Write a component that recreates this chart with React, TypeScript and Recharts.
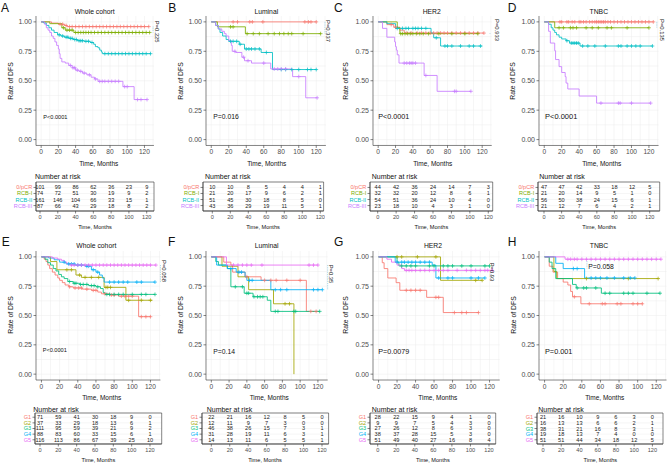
import React from 'react';
import {
  LineChart, Line, XAxis, YAxis, CartesianGrid, ReferenceLine,
  ScatterChart, Scatter, ReferenceArea,
} from 'recharts';

type Step = [number, number];

const FONT = '"Liberation Sans", Arial, Helvetica, sans-serif';
const RCB = ['#F8766D', '#7CAE00', '#00BFC4', '#C77CFF'];
const GRP = ['#F8766D', '#A3A500', '#00BF7D', '#00B0F6', '#E76BF3'];
const rcbLabels = ['0/pCR', 'RCB-I', 'RCB-II', 'RCB-III'];
const grpLabels = ['G1', 'G2', 'G3', 'G4', 'G5'];
const timeTicks = [0, 20, 40, 60, 80, 100, 120];
const survTicks = [0, 0.25, 0.5, 0.75, 1];
const gridX = [0, 10, 20, 30, 40, 50, 60, 70, 80, 90, 100, 110, 120, 130];
const gridY = [0, 0.125, 0.25, 0.375, 0.5, 0.625, 0.75, 0.875, 1];

// ---- A: whole cohort by RCB ----
const A_pcr: Step[] = [[0, 1], [12, 0.99], [20, 0.98], [27, 0.97], [30, 0.96], [125, 0.96]];
const A_pcr_c = [22, 25, 29, 33, 36, 40, 44, 48, 52, 56, 60, 64, 68, 72, 76, 80, 84, 88, 92, 96, 100, 104, 108, 112, 116, 120, 125];
const A_rcb1: Step[] = [[0, 1], [10, 0.985], [24, 0.95], [28, 0.93], [38, 0.91], [126, 0.91]];
const A_rcb1_c = [26, 30, 33, 36, 40, 43, 46, 49, 52, 55, 58, 62, 66, 70, 74, 78, 82, 86, 90, 94, 98, 102, 106, 110, 114, 118, 122, 126];
const A_rcb2: Step[] = [[0, 1], [3, 0.99], [6, 0.97], [9, 0.95], [12, 0.93], [15, 0.91], [19, 0.89], [23, 0.88], [27, 0.87], [32, 0.86], [37, 0.85], [42, 0.84], [50, 0.835], [57, 0.825], [61, 0.81], [63, 0.79], [66, 0.78], [68, 0.76], [70, 0.745], [71, 0.73], [127, 0.73]];
const A_rcb2_c = [21, 25, 29, 31, 34, 36, 39, 41, 44, 46, 48, 52, 55, 59, 74, 78, 82, 86, 90, 94, 98, 102, 106, 110, 114, 118, 122, 127];
const A_rcb3: Step[] = [[0, 1], [4, 0.98], [6, 0.95], [8, 0.93], [10, 0.91], [12, 0.88], [14, 0.86], [16, 0.83], [18, 0.8], [20, 0.77], [21, 0.73], [22, 0.69], [24, 0.66], [28, 0.65], [32, 0.63], [36, 0.61], [40, 0.59], [44, 0.58], [48, 0.565], [53, 0.55], [58, 0.53], [62, 0.515], [66, 0.495], [95, 0.45], [108, 0.34], [123, 0.34]];
const A_rcb3_c = [34, 37, 39, 42, 46, 50, 56, 63, 68, 71, 74, 78, 82, 86, 90, 97, 100, 112, 116, 123];
const A_risk = [[101, 99, 86, 62, 36, 23, 9], [74, 72, 51, 30, 19, 9, 2], [161, 146, 104, 66, 33, 15, 1], [87, 66, 43, 29, 18, 8, 2]];

// ---- B: luminal by RCB ----
const B_pcr: Step[] = [[0, 1], [120, 1]];
const B_pcr_c = [25, 30, 44, 47, 59, 107, 111, 114, 120];
const B_rcb1: Step[] = [[0, 1], [7, 0.958], [39, 0.9], [125, 0.9]];
const B_rcb1_c = [22, 25, 41, 48, 55, 65, 72, 78, 83, 88, 92, 105, 125];
const B_rcb2: Step[] = [[0, 1], [5, 0.97], [8, 0.94], [10, 0.91], [13, 0.88], [17, 0.85], [20, 0.835], [32, 0.81], [38, 0.77], [57, 0.74], [70, 0.595], [120, 0.595]];
const B_rcb2_c = [22, 25, 29, 33, 40, 43, 46, 50, 55, 63, 80, 85, 92, 100, 110, 114, 120];
const B_rcb3: Step[] = [[0, 1], [5, 0.97], [8, 0.94], [12, 0.92], [15, 0.9], [17, 0.88], [20, 0.84], [23, 0.8], [24, 0.75], [28, 0.74], [35, 0.7], [38, 0.67], [46, 0.65], [68, 0.6], [93, 0.535], [108, 0.355], [121, 0.355]];
const B_rcb3_c = [27, 37, 42, 60, 72, 76, 80, 85, 100, 121];
const B_risk = [[10, 10, 8, 5, 4, 4, 1], [21, 20, 17, 9, 6, 2, 1], [51, 45, 30, 18, 8, 5, 0], [43, 36, 29, 19, 11, 5, 1]];

// ---- C: HER2 by RCB ----
const C_pcr: Step[] = [[0, 1], [10, 0.977], [18, 0.955], [25, 0.93], [30, 0.905], [122, 0.905]];
const C_pcr_c = [15, 20, 33, 38, 45, 50, 55, 60, 64, 68, 72, 76, 80, 85, 90, 95, 100, 105, 110, 115, 122];
const C_rcb1: Step[] = [[0, 1], [22, 0.95], [25, 0.9], [115, 0.9]];
const C_rcb1_c = [26, 28, 31, 34, 37, 40, 44, 48, 52, 58, 70, 85, 100, 115];
const C_rcb2: Step[] = [[0, 1], [10, 0.985], [20, 0.945], [61, 0.905], [64, 0.865], [72, 0.795], [120, 0.795]];
const C_rcb2_c = [22, 28, 32, 35, 40, 43, 46, 50, 55, 67, 77, 80, 85, 95, 105, 110, 118];
const C_rcb3: Step[] = [[0, 1], [5, 0.945], [10, 0.87], [19, 0.83], [20, 0.79], [21, 0.76], [22, 0.72], [24, 0.65], [53, 0.545], [68, 0.41], [107, 0.41]];
const C_rcb3_c = [30, 33, 36, 38, 40, 43, 55, 88, 90, 107];
const C_risk = [[44, 42, 36, 24, 14, 7, 3], [32, 32, 20, 12, 8, 6, 1], [54, 51, 36, 24, 10, 4, 0], [23, 18, 10, 4, 3, 1, 0]];

// ---- D: TNBC by RCB ----
const D_pcr: Step[] = [[0, 1], [125, 1]];
const D_pcr_c = [18, 20, 26, 28, 32, 35, 40, 42, 45, 48, 52, 55, 58, 60, 62, 64, 66, 68, 70, 73, 76, 80, 84, 88, 92, 96, 100, 104, 108, 112, 116, 120, 125];
const D_rcb1: Step[] = [[0, 1], [12, 0.95], [120, 0.95]];
const D_rcb1_c = [17, 22, 30, 33, 37, 48, 55, 62, 72, 77, 95, 120];
const D_rcb2: Step[] = [[0, 1], [5, 0.98], [8, 0.95], [10, 0.93], [12, 0.91], [14, 0.89], [17, 0.87], [20, 0.855], [25, 0.84], [29, 0.82], [41, 0.795], [124, 0.795]];
const D_rcb2_c = [26, 31, 33, 35, 37, 39, 44, 50, 58, 70, 85, 88, 95, 100, 105, 110, 124];
const D_rcb3: Step[] = [[0, 1], [5, 0.92], [7, 0.82], [12, 0.755], [13, 0.68], [17, 0.62], [20, 0.57], [24, 0.535], [25, 0.48], [27, 0.43], [40, 0.37], [60, 0.31], [122, 0.31]];
const D_rcb3_c = [65, 85, 87, 100, 122];
const D_risk = [[47, 47, 42, 33, 18, 12, 5], [21, 20, 14, 9, 5, 1, 0], [56, 50, 38, 24, 15, 6, 1], [21, 12, 7, 6, 4, 2, 1]];

// ---- E: whole cohort by group ----
const E_g1: Step[] = [[0, 1], [3, 0.98], [5, 0.96], [7, 0.93], [9, 0.9], [12, 0.87], [15, 0.845], [18, 0.82], [20, 0.8], [23, 0.78], [26, 0.76], [30, 0.745], [35, 0.735], [45, 0.725], [55, 0.715], [62, 0.7], [66, 0.685], [75, 0.675], [85, 0.665], [107, 0.49], [120, 0.49]];
const E_g1_c = [31, 37, 41, 44, 50, 57, 60, 70, 77, 80, 88, 92, 96, 100, 110, 115, 120];
const E_g2: Step[] = [[0, 1], [10, 0.96], [17, 0.89], [38, 0.845], [44, 0.825], [69, 0.74], [93, 0.63], [122, 0.63]];
const E_g2_c = [28, 33, 42, 48, 55, 63, 71, 73, 76, 96, 110, 120];
const E_g3: Step[] = [[0, 1], [4, 0.98], [7, 0.95], [10, 0.93], [13, 0.9], [16, 0.88], [19, 0.85], [22, 0.83], [25, 0.815], [29, 0.79], [35, 0.775], [42, 0.765], [52, 0.755], [60, 0.745], [65, 0.73], [68, 0.695], [70, 0.68], [125, 0.68]];
const E_g3_c = [31, 36, 38, 43, 46, 50, 55, 58, 62, 72, 75, 80, 85, 90, 100, 110, 115, 125];
const E_g4: Step[] = [[0, 1], [8, 0.99], [14, 0.975], [20, 0.955], [27, 0.94], [37, 0.93], [48, 0.92], [55, 0.89], [60, 0.87], [64, 0.845], [67, 0.82], [69, 0.785], [125, 0.785]];
const E_g4_c = [25, 30, 33, 36, 40, 44, 50, 52, 57, 62, 75, 80, 85, 90, 95, 105, 110, 125];
const E_g5: Step[] = [[0, 1], [12, 0.99], [18, 0.98], [22, 0.97], [25, 0.955], [28, 0.94], [31, 0.93], [126, 0.93]];
const E_g5_c = [33, 36, 40, 44, 48, 52, 56, 60, 64, 68, 72, 76, 80, 84, 88, 92, 96, 100, 104, 108, 112, 116, 120, 126];
const E_risk = [[71, 59, 41, 30, 18, 9, 0], [37, 33, 29, 18, 13, 6, 1], [111, 95, 59, 39, 21, 9, 2], [88, 83, 60, 33, 15, 6, 1], [116, 113, 86, 67, 39, 25, 10]];

// ---- F: luminal by group ----
const F_g1: Step[] = [[0, 1], [14, 0.955], [22, 0.93], [24, 0.87], [38, 0.83], [56, 0.8], [107, 0.535], [120, 0.535]];
const F_g1_c = [40, 60, 67, 73, 85, 100, 112, 118];
const F_g2: Step[] = [[0, 1], [12, 0.92], [30, 0.83], [42, 0.72], [70, 0.6], [93, 0]];
const F_g2_c = [83, 88];
const F_g3: Step[] = [[0, 1], [5, 0.96], [8, 0.93], [18, 0.9], [22, 0.745], [37, 0.69], [47, 0.66], [63, 0.63], [67, 0.535], [122, 0.535]];
const F_g3_c = [27, 35, 40, 42, 48, 52, 55, 58, 72, 75, 93, 95, 122];
const F_g4: Step[] = [[0, 1], [6, 0.93], [18, 0.9], [28, 0.87], [38, 0.83], [40, 0.8], [67, 0.72], [125, 0.72]];
const F_g4_c = [22, 31, 34, 43, 46, 72, 78, 85, 115, 120, 125];
const F_g5: Step[] = [[0, 1], [17, 0.93], [120, 0.93]];
const F_g5_c = [25, 30, 35, 40, 45, 57, 110, 115, 120];
const F_risk = [[22, 21, 16, 12, 8, 5, 0], [12, 11, 9, 7, 3, 0, 0], [46, 38, 26, 15, 7, 3, 1], [31, 28, 19, 11, 6, 3, 1], [14, 13, 11, 6, 5, 5, 1]];

// ---- G: HER2 by group ----
const G_g1: Step[] = [[0, 1], [4, 0.95], [6, 0.9], [10, 0.82], [19, 0.78], [23, 0.715], [52, 0.655], [70, 0.525], [108, 0.525]];
const G_g1_c = [30, 35, 40, 45, 62, 65, 82, 90, 95, 108];
const G_g2: Step[] = [[0, 1], [67, 0.8], [112, 0.8]];
const G_g2_c = [20, 25, 42, 62, 105, 112];
const G_g3: Step[] = [[0, 1], [20, 0.955], [22, 0.923], [120, 0.923]];
const G_g3_c = [25, 30, 35, 40, 55, 60, 70, 75, 80, 90, 100, 115, 120];
const G_g4: Step[] = [[0, 1], [18, 0.955], [58, 0.93], [62, 0.82], [115, 0.82]];
const G_g4_c = [20, 25, 28, 32, 36, 40, 45, 50, 55, 65, 75, 80, 100, 108, 115];
const G_g5: Step[] = [[0, 1], [9, 0.98], [14, 0.955], [20, 0.93], [25, 0.9], [28, 0.885], [123, 0.885]];
const G_g5_c = [30, 33, 36, 40, 45, 50, 55, 60, 65, 70, 75, 85, 95, 100, 105, 110, 115, 118, 123];
const G_risk = [[28, 22, 15, 9, 4, 1, 0], [9, 9, 7, 5, 4, 3, 0], [27, 26, 12, 8, 6, 3, 0], [38, 37, 28, 15, 5, 3, 0], [51, 49, 40, 27, 16, 8, 4]];

// ---- H: TNBC by group ----
const H_g1: Step[] = [[0, 1], [5, 0.92], [9, 0.87], [14, 0.815], [20, 0.785], [25, 0.76], [28, 0.705], [30, 0.66], [39, 0.6], [105, 0.6]];
const H_g1_c = [32, 48, 62, 65, 78, 82, 95, 100, 105];
const H_g2: Step[] = [[0, 1], [10, 0.875], [13, 0.815], [122, 0.815]];
const H_g2_c = [45, 90, 122];
const H_g3: Step[] = [[0, 1], [5, 0.955], [8, 0.9], [12, 0.815], [30, 0.765], [34, 0.735], [61, 0.69], [124, 0.69]];
const H_g3_c = [35, 42, 45, 55, 65, 70, 85, 90, 95, 110, 124];
const H_g4: Step[] = [[0, 1], [12, 0.945], [20, 0.9], [43, 0.82], [97, 0.82]];
const H_g4_c = [31, 35, 50, 55, 60, 67, 75, 85, 92, 97];
const H_g5: Step[] = [[0, 1], [22, 0.98], [125, 0.98]];
const H_g5_c = [25, 28, 32, 35, 40, 45, 50, 55, 60, 65, 70, 75, 80, 85, 90, 95, 100, 105, 110, 115, 120, 125];
const H_risk = [[21, 16, 10, 9, 6, 3, 0], [16, 13, 13, 6, 6, 2, 1], [38, 31, 21, 16, 8, 3, 1], [19, 18, 13, 7, 4, 0, 0], [51, 51, 44, 34, 18, 12, 5]];

// build KM points: steps plus censor marks (value = step value in force at that time)
function km(steps: Step[], cens: number[]) {
  const pts = steps.map(([t, s]) => ({ t, s, c: false }));
  cens.forEach((t) => {
    let s = steps[0][1];
    for (const [st, sv] of steps) if (st <= t) s = sv;
    pts.push({ t, s, c: true });
  });
  return pts.sort((a, b) => a.t - b.t || (a.c ? 1 : -1));
}

const TOP = { letter: 11.5, title: 11, ylab: 81, xlab: 163, riskTitle: 176.7, tTop: 181.7, tBottom: 210.7, tXlab: 226.7 };
const BOT = { letter: 246.3, title: 245, ylab: 315, xlab: 397.7, riskTitle: 409.3, tTop: 413.3, tBottom: 444.3, tXlab: 460 };

const panels = [
  {
    id: 'A', row: TOP, title: 'Whole cohort', colors: RCB, labels: rcbLabels, risk: A_risk,
    curves: [km(A_pcr, A_pcr_c), km(A_rcb1, A_rcb1_c), km(A_rcb2, A_rcb2_c), km(A_rcb3, A_rcb3_c)],
    plot: { x0: 41, x120: 144.3, y1: 22.3, y0: 140 },
    table: { left: 36, right: 154, x0: 40, x120: 146.7 },
    letterX: 1, titleX: 94.7, ylabX: 10, xlabX: 98.7, riskX: 35,
    pMain: { text: 'P<0.0001', x: 43.3, y: 116.7, size: 5.6 },
    pSide: { text: 'P=0.225', x: 157, y: 31.7 },
    bracket: [130, 0.96, 0.91],
  },
  {
    id: 'B', row: TOP, title: 'Luminal', colors: RCB, labels: rcbLabels, risk: B_risk,
    curves: [km(B_pcr, B_pcr_c), km(B_rcb1, B_rcb1_c), km(B_rcb2, B_rcb2_c), km(B_rcb3, B_rcb3_c)],
    plot: { x0: 211.7, x120: 316.7, y1: 22.3, y0: 140 },
    table: { left: 202.7, right: 323.3, x0: 212, x120: 320 },
    letterX: 168.3, titleX: 266.3, ylabX: 180, xlabX: 266.7, riskX: 205,
    pMain: { text: 'P=0.016', x: 213.3, y: 116.7, size: 6.8 },
    pSide: { text: 'P=0.337', x: 328.3, y: 31 },
    bracket: [130, 1, 0.9],
  },
  {
    id: 'C', row: TOP, title: 'HER2', colors: RCB, labels: rcbLabels, risk: C_risk,
    curves: [km(C_pcr, C_pcr_c), km(C_rcb1, C_rcb1_c), km(C_rcb2, C_rcb2_c), km(C_rcb3, C_rcb3_c)],
    plot: { x0: 377.7, x120: 481.7, y1: 22.3, y0: 140 },
    table: { left: 370, right: 492.7, x0: 377.7, x120: 488.3 },
    letterX: 334, titleX: 431.7, ylabX: 345, xlabX: 432.7, riskX: 371.7,
    pMain: { text: 'P<0.0001', x: 378.3, y: 116.7, size: 7.2 },
    pSide: { text: 'P=0.933', x: 497, y: 30 },
    bracket: [129, 0.905, 0.9],
  },
  {
    id: 'D', row: TOP, title: 'TNBC', colors: RCB, labels: rcbLabels, risk: D_risk,
    curves: [km(D_pcr, D_pcr_c), km(D_rcb1, D_rcb1_c), km(D_rcb2, D_rcb2_c), km(D_rcb3, D_rcb3_c)],
    plot: { x0: 544.3, x120: 649, y1: 22.3, y0: 140 },
    table: { left: 538.3, right: 660, x0: 544.3, x120: 650 },
    letterX: 507.7, titleX: 598.8, ylabX: 512.7, xlabX: 601.7, riskX: 539.3,
    pMain: { text: 'P<0.0001', x: 545, y: 116.7, size: 7.5 },
    pSide: { text: 'P=0.135', x: 662, y: 30 },
    bracket: [129, 1, 0.95],
  },
  {
    id: 'E', row: BOT, title: 'Whole cohort', colors: GRP, labels: grpLabels, risk: E_risk,
    curves: [km(E_g1, E_g1_c), km(E_g2, E_g2_c), km(E_g3, E_g3_c), km(E_g4, E_g4_c), km(E_g5, E_g5_c)],
    plot: { x0: 41, x120: 150, y1: 256.7, y0: 374 },
    table: { left: 35, right: 161.7, x0: 40, x120: 150 },
    letterX: 1.7, titleX: 96.3, ylabX: 10, xlabX: 101.7, riskX: 33.3,
    pMain: { text: 'P<0.0001', x: 42.7, y: 350, size: 5.6 },
    pSide: { text: 'P=0.058', x: 164, y: 271 },
    bracket: [131, 0.93, 0.785],
  },
  {
    id: 'F', row: BOT, title: 'Luminal', colors: GRP, labels: grpLabels, risk: F_risk,
    curves: [km(F_g1, F_g1_c), km(F_g2, F_g2_c), km(F_g3, F_g3_c), km(F_g4, F_g4_c), km(F_g5, F_g5_c)],
    plot: { x0: 211.7, x120: 318.3, y1: 256.7, y0: 374 },
    table: { left: 201.7, right: 328.3, x0: 211, x120: 321.7 },
    letterX: 168, titleX: 266.7, ylabX: 180, xlabX: 269.2, riskX: 206.7,
    pMain: { text: 'P=0.14', x: 213.3, y: 351.7, size: 6.8 },
    pSide: { text: 'P=0.35', x: 330.7, y: 274 },
    bracket: [131, 0.93, 0.72],
  },
  {
    id: 'G', row: BOT, title: 'HER2', colors: GRP, labels: grpLabels, risk: G_risk,
    curves: [km(G_g1, G_g1_c), km(G_g2, G_g2_c), km(G_g3, G_g3_c), km(G_g4, G_g4_c), km(G_g5, G_g5_c)],
    plot: { x0: 378.3, x120: 489.3, y1: 256.7, y0: 374 },
    table: { left: 370, right: 495.7, x0: 377.7, x120: 489 },
    letterX: 334, titleX: 433, ylabX: 345, xlabX: 437.8, riskX: 371.7,
    pMain: { text: 'P=0.0079', x: 378.3, y: 351, size: 7.2 },
    pSide: { text: 'P=0.93', x: 492, y: 272 },
    bracket: [122, 0.885, 0.82],
  },
  {
    id: 'H', row: BOT, title: 'TNBC', colors: GRP, labels: grpLabels, risk: H_risk,
    curves: [km(H_g1, H_g1_c), km(H_g2, H_g2_c), km(H_g3, H_g3_c), km(H_g4, H_g4_c), km(H_g5, H_g5_c)],
    plot: { x0: 544.3, x120: 656, y1: 256.7, y0: 374 },
    table: { left: 537.3, right: 663.3, x0: 543.3, x120: 652.7 },
    letterX: 507.7, titleX: 599, ylabX: 513, xlabX: 604.7, riskX: 538.3,
    pMain: { text: 'P=0.001', x: 545, y: 351, size: 7.3 },
    pInner: { text: 'P=0.058', x: 588.3, y: 266.7, size: 6.8 },
    bracket: [45.5, 0.98, 0.9],
  },
];

const crossDot = (color: string) => (p: any) => {
  const { cx, cy, payload, index } = p;
  if (!payload || !payload.c || cx == null || cy == null) return <g key={`n${index}`} />;
  return (
    <path key={`c${index}`} d={`M${cx - 1.9},${cy}h3.8M${cx},${cy - 1.9}v3.8`}
      stroke={color} strokeWidth={0.7} fill="none" />
  );
};

const axisStroke = { stroke: '#333', strokeWidth: 0.6 };

function KMPlot({ p }: { p: any }) {
  const g = p.plot;
  const k = (g.x120 - g.x0) / 120;
  const left = g.x0 - 6 * k;
  const plotW = 137 * k;
  const ky = g.y0 - g.y1;
  const top = g.y1 - 0.05 * ky;
  const plotH = 1.1 * ky;
  const yW = 30, mt = 3, mr = 3, xH = 14;
  const [bx, by1, by2] = p.bracket;
  return (
    <div style={{ position: 'absolute', left: left - yW, top: top - mt }}>
      <LineChart width={yW + plotW + mr} height={mt + plotH + xH}
        margin={{ top: mt, right: mr, bottom: 0, left: 0 }}>
        <CartesianGrid stroke="#ececec" strokeWidth={0.5}
          verticalValues={gridX} horizontalValues={gridY} />
        <XAxis type="number" dataKey="t" domain={[-6, 131]} ticks={timeTicks} allowDataOverflow
          interval={0} height={xH} tickSize={2.5} tickMargin={1.5}
          axisLine={axisStroke} tickLine={axisStroke}
          tick={{ fontSize: 6.6, fill: '#4d4d4d', fontFamily: FONT }} />
        <YAxis type="number" domain={[-0.05, 1.05]} ticks={survTicks} allowDataOverflow
          interval={0} width={yW} tickSize={2.5} tickMargin={1.5}
          tickFormatter={(v: number) => v.toFixed(2)}
          axisLine={axisStroke} tickLine={axisStroke}
          tick={{ fontSize: 7, fill: '#4d4d4d', fontFamily: FONT }} />
        <ReferenceLine segment={[{ x: bx, y: by1 }, { x: bx, y: by2 }]}
          stroke="#6fb7d6" strokeWidth={0.7} strokeDasharray="0.8 1" ifOverflow="visible" />
        {p.curves.map((c: any, i: number) => (
          <Line key={i} data={c} dataKey="s" type="stepAfter" stroke={p.colors[i]}
            strokeWidth={0.85} dot={crossDot(p.colors[i])} activeDot={false}
            isAnimationActive={false} />
        ))}
      </LineChart>
    </div>
  );
}

function RiskTable({ p }: { p: any }) {
  const g = p.table;
  const n = p.risk.length;
  const k = (g.x120 - g.x0) / 120;
  const lo = (g.left - g.x0) / k;
  const hi = (g.right - g.x0) / k;
  const yLo = n === 4 ? 0.1 : 0.25;
  const yHi = n + 1 - yLo;
  const top = p.row.tTop, h = p.row.tBottom - p.row.tTop;
  const yW = 36, mt = 2, mr = 2, xH = 12;
  const data = p.risk.flatMap((r: number[], i: number) =>
    r.map((v, j) => ({ t: timeTicks[j], row: i + 1, n: v })));
  const rowTick = (tp: any) => (
    <text x={yW - 3.8} y={tp.y} textAnchor="end" dominantBaseline="central" fontSize={5.6}
      fontFamily={FONT} fill={p.colors[tp.payload.value - 1]}>{p.labels[tp.payload.value - 1]}</text>
  );
  const numShape = (sp: any) => (
    <text x={sp.cx} y={sp.cy} textAnchor="middle" dominantBaseline="central" fontSize={5.6}
      fontFamily={FONT} fill="#222">{sp.payload.n}</text>
  );
  return (
    <div style={{ position: 'absolute', left: g.left - yW, top: top - mt }}>
      <ScatterChart width={yW + (g.right - g.left) + mr} height={mt + h + xH}
        margin={{ top: mt, right: mr, bottom: 0, left: 0 }}>
        <CartesianGrid vertical={false} stroke="#ececec" strokeWidth={0.5} />
        <XAxis type="number" dataKey="t" domain={[lo, hi]} ticks={timeTicks} allowDataOverflow
          interval={0} height={xH} tickSize={2.5} tickMargin={1.5}
          axisLine={axisStroke} tickLine={axisStroke}
          tick={{ fontSize: 5.6, fill: '#4d4d4d', fontFamily: FONT }} />
        <YAxis type="number" dataKey="row" domain={[yLo, yHi]} reversed ticks={p.risk.map((_: any, i: number) => i + 1)}
          allowDataOverflow interval={0} width={yW} tickSize={2.5} tickMargin={1}
          axisLine={axisStroke} tickLine={axisStroke} tick={rowTick} />
        <ReferenceArea x1={lo} x2={hi} y1={yLo} y2={yHi} fill="none" fillOpacity={0}
          stroke="#333" strokeWidth={0.6} ifOverflow="visible" />
        <Scatter data={data} shape={numShape} isAnimationActive={false} />
      </ScatterChart>
    </div>
  );
}

export default function App() {
  const txt = { fontFamily: FONT, fill: '#111' } as const;
  return (
    <div style={{ position: 'absolute', left: 0, top: 0, width: 669, height: 464, background: '#fff', overflow: 'hidden' }}>
      {panels.map((p) => (
        <React.Fragment key={p.id}>
          <KMPlot p={p} />
          <RiskTable p={p} />
        </React.Fragment>
      ))}
      <svg width={669} height={464} style={{ position: 'absolute', left: 0, top: 0, pointerEvents: 'none' }}>
        {panels.map((p) => {
          const tc = (p.table.left + p.table.right) / 2;
          return (
            <g key={p.id}>
              <text x={p.letterX} y={p.row.letter} fontSize={12} {...txt}>{p.id}</text>
              <text x={p.titleX} y={p.row.title} fontSize={6.8} textAnchor="middle" dominantBaseline="central" {...txt}>{p.title}</text>
              <text x={p.ylabX} y={p.row.ylab} fontSize={6.8} textAnchor="middle" dominantBaseline="central"
                transform={`rotate(-90 ${p.ylabX} ${p.row.ylab})`} {...txt}>Rate of DFS</text>
              <text x={p.xlabX} y={p.row.xlab} fontSize={6.5} textAnchor="middle" dominantBaseline="central" {...txt}>Time, Months</text>
              <text x={p.riskX} y={p.row.riskTitle} fontSize={7} dominantBaseline="central" {...txt}>Number at risk</text>
              <text x={tc} y={p.row.tXlab} fontSize={5.6} textAnchor="middle" dominantBaseline="central" {...txt}>Time, Months</text>
              <text x={p.pMain.x} y={p.pMain.y} fontSize={p.pMain.size} dominantBaseline="central" {...txt}>{p.pMain.text}</text>
              {p.pSide && (
                <text x={p.pSide.x} y={p.pSide.y} fontSize={5.8} textAnchor="middle" dominantBaseline="central"
                  transform={`rotate(90 ${p.pSide.x} ${p.pSide.y})`} {...txt}>{p.pSide.text}</text>
              )}
              {p.pInner && (
                <text x={p.pInner.x} y={p.pInner.y} fontSize={p.pInner.size} dominantBaseline="central" {...txt}>{p.pInner.text}</text>
              )}
            </g>
          );
        })}
      </svg>
    </div>
  );
}
